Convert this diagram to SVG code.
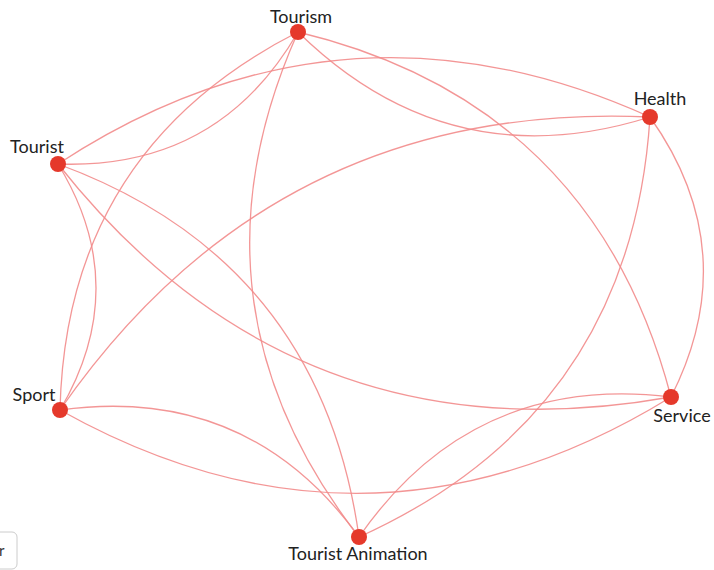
<svg xmlns="http://www.w3.org/2000/svg" width="714" height="570" viewBox="0 0 714 570">
<style>
.e{fill:none;stroke:#f28b8b;stroke-width:1.3;stroke-opacity:0.9}
.n{fill:#e5392b}
.l{font-family:"Lato","Liberation Sans",sans-serif;font-size:18px;fill:#222}
</style>
<rect width="714" height="570" fill="#fff"/>
<g id="connectors">
<path class="e" d="M58,164 Q342,-22 650,117"/>
<path class="e" d="M58,164 Q133,286 60,410"/>
<path class="e" d="M298,32 Q218,170 58,164"/>
<path class="e" d="M298,32 Q66,150 60,410"/>
<path class="e" d="M298,32 Q177,303 359,537"/>
<path class="e" d="M298,32 Q449,180 650,117"/>
<path class="e" d="M298,32 Q594,103 671,397"/>
<path class="e" d="M58,164 Q295,464 671,397"/>
<path class="e" d="M58,164 Q320,260 359,537"/>
<path class="e" d="M60,410 Q275,100 650,117"/>
<path class="e" d="M60,410 Q248,384 359,537"/>
<path class="e" d="M60,410 Q369,583 671,397"/>
<path class="e" d="M650,117 Q745,251 671,397"/>
<path class="e" d="M650,117 Q631,414 359,537"/>
<path class="e" d="M671,397 Q473,373 359,537"/>
</g>
<g id="node-tourism"><circle class="n" cx="298" cy="32" r="8"/><text class="l" x="301" y="23" text-anchor="middle">Tourism</text></g>
<g id="node-health"><circle class="n" cx="650" cy="117" r="8"/><text class="l" x="660" y="105" text-anchor="middle">Health</text></g>
<g id="node-tourist"><circle class="n" cx="58" cy="164" r="8"/><text class="l" x="37" y="153" text-anchor="middle">Tourist</text></g>
<g id="node-sport"><circle class="n" cx="60" cy="410" r="8"/><text class="l" x="34" y="401" text-anchor="middle">Sport</text></g>
<g id="node-service"><circle class="n" cx="671" cy="397" r="8"/><text class="l" x="682" y="422" text-anchor="middle">Service</text></g>
<g id="node-tourist-animation"><circle class="n" cx="359" cy="537" r="8"/><text class="l" x="358" y="560" text-anchor="middle">Tourist Animation</text></g>
<g id="legend-box"><rect x="-30" y="532" width="47" height="37" rx="5" fill="#fff" stroke="#ccc" stroke-width="1"/><text x="-1" y="556" style="font-family:'Lato','Liberation Sans',sans-serif;font-size:15px;fill:#333">r</text></g>
</svg>
